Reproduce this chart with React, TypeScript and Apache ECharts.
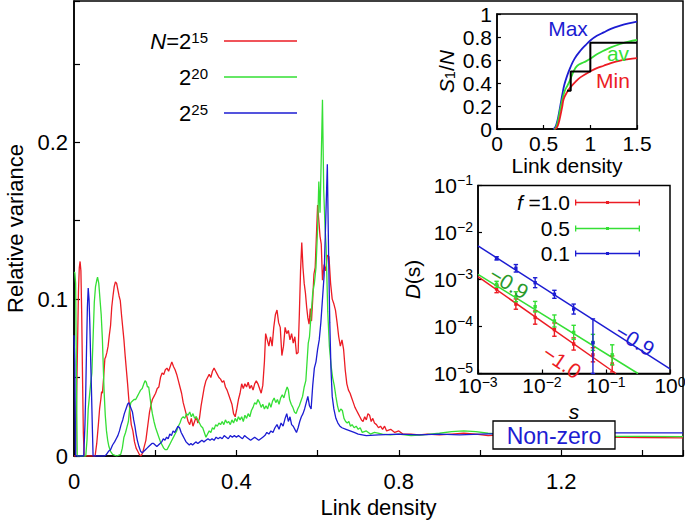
import React, { useEffect, useRef } from 'react';
import * as echarts from 'echarts';

const RED = '#ec1c24';
const GREEN = '#35df35';
const BLUE = '#1c1cd2';
const FONT = 'Liberation Sans';

// ---------- main panel: relative variance vs link density ----------
const mainRed: number[][] = [
  [0, 0], [0.004, 0], [0.008, 0.06], [0.011, 0.105], [0.013, 0.12], [0.015, 0.124], [0.017, 0.118], [0.019, 0.09], [0.021, 0.05], [0.023, 0.015], [0.025, 0],
  [0.052, 0], [0.056, 0.008], [0.06, 0.02], [0.063, 0.03], [0.066, 0.036], [0.068, 0.041], [0.07, 0.04], [0.073, 0.05], [0.076, 0.062], [0.078, 0.063], [0.081, 0.066],
  [0.084, 0.07], [0.087, 0.077], [0.09, 0.083], [0.093, 0.095], [0.096, 0.102], [0.099, 0.108], [0.102, 0.111], [0.105, 0.11], [0.108, 0.106], [0.111, 0.102],
  [0.114, 0.099], [0.117, 0.09], [0.12, 0.082], [0.123, 0.074], [0.126, 0.064], [0.129, 0.055], [0.132, 0.046], [0.135, 0.036], [0.138, 0.028], [0.141, 0.02],
  [0.145, 0.016], [0.149, 0.009], [0.153, 0.005], [0.157, 0.003], [0.161, 0.001], [0.165, 0.0], [0.169, 0.002], [0.173, 0.006], [0.177, 0.01], [0.18, 0.016],
  [0.183, 0.022], [0.186, 0.028], [0.19, 0.033], [0.193, 0.036], [0.197, 0.038], [0.201, 0.04], [0.205, 0.043], [0.209, 0.044], [0.213, 0.05], [0.217, 0.053],
  [0.221, 0.052], [0.225, 0.055], [0.229, 0.056], [0.233, 0.054], [0.237, 0.057], [0.241, 0.06], [0.245, 0.057], [0.249, 0.055], [0.253, 0.052], [0.257, 0.048],
  [0.261, 0.044], [0.265, 0.04], [0.269, 0.034], [0.273, 0.03], [0.277, 0.026], [0.281, 0.022], [0.285, 0.02], [0.289, 0.024], [0.293, 0.019], [0.297, 0.022],
  [0.301, 0.025], [0.305, 0.021], [0.309, 0.024], [0.313, 0.032], [0.317, 0.038], [0.321, 0.044], [0.325, 0.048], [0.329, 0.05], [0.333, 0.052], [0.337, 0.05],
  [0.341, 0.054], [0.345, 0.056], [0.349, 0.054], [0.353, 0.052], [0.357, 0.05], [0.361, 0.049], [0.365, 0.047], [0.369, 0.048], [0.373, 0.044], [0.377, 0.042],
  [0.381, 0.039], [0.385, 0.036], [0.389, 0.033], [0.393, 0.027], [0.397, 0.025], [0.401, 0.03], [0.405, 0.036], [0.409, 0.04], [0.413, 0.046], [0.417, 0.043],
  [0.421, 0.046], [0.425, 0.044], [0.429, 0.047], [0.433, 0.043], [0.437, 0.045], [0.441, 0.042], [0.445, 0.046], [0.449, 0.048], [0.453, 0.046], [0.457, 0.043],
  [0.461, 0.04], [0.465, 0.045], [0.469, 0.06], [0.472, 0.078], [0.476, 0.074], [0.48, 0.07], [0.484, 0.076], [0.488, 0.07], [0.492, 0.082], [0.496, 0.09],
  [0.5, 0.093], [0.504, 0.085], [0.508, 0.082], [0.512, 0.064], [0.516, 0.07], [0.52, 0.082], [0.524, 0.078], [0.528, 0.08], [0.532, 0.074], [0.536, 0.078],
  [0.54, 0.072], [0.544, 0.076], [0.548, 0.065], [0.552, 0.066], [0.555, 0.09], [0.558, 0.118], [0.561, 0.136], [0.564, 0.12], [0.567, 0.11], [0.57, 0.104],
  [0.573, 0.095], [0.576, 0.088], [0.579, 0.084], [0.582, 0.094], [0.585, 0.086], [0.588, 0.1], [0.591, 0.116], [0.594, 0.12], [0.597, 0.14], [0.6, 0.16],
  [0.603, 0.15], [0.606, 0.14], [0.609, 0.135], [0.612, 0.112], [0.616, 0.122], [0.62, 0.118], [0.624, 0.128], [0.628, 0.127], [0.632, 0.11], [0.636, 0.1],
  [0.64, 0.097], [0.644, 0.093], [0.648, 0.085], [0.652, 0.076], [0.656, 0.07], [0.66, 0.074], [0.664, 0.068], [0.668, 0.055], [0.672, 0.046], [0.676, 0.042],
  [0.68, 0.04], [0.684, 0.037], [0.688, 0.034], [0.692, 0.031], [0.696, 0.029], [0.7, 0.027], [0.704, 0.025], [0.708, 0.023], [0.712, 0.022], [0.716, 0.025],
  [0.72, 0.023], [0.724, 0.027], [0.728, 0.026], [0.732, 0.022], [0.736, 0.024], [0.74, 0.021], [0.745, 0.02], [0.75, 0.018], [0.755, 0.019], [0.76, 0.017],
  [0.765, 0.019], [0.77, 0.016], [0.78, 0.017], [0.79, 0.015], [0.8, 0.016], [0.81, 0.014], [0.83, 0.014], [0.85, 0.0135], [0.87, 0.014], [0.9, 0.0135],
  [0.93, 0.014], [0.96, 0.0145], [0.99, 0.014], [1.02, 0.013], [1.05, 0.0135], [1.1, 0.013], [1.2, 0.0125], [1.3, 0.012], [1.4, 0.0118], [1.5, 0.0116],
];

const mainGreen: number[][] = [
  [0, 0.117], [0.002, 0.117], [0.004, 0.11], [0.006, 0.05], [0.008, 0], [0.029, 0], [0.032, 0.01], [0.035, 0.03], [0.038, 0.038], [0.041, 0.046], [0.044, 0.053],
  [0.047, 0.075], [0.05, 0.098], [0.053, 0.108], [0.056, 0.112], [0.058, 0.114], [0.061, 0.11], [0.064, 0.1], [0.067, 0.09], [0.07, 0.074], [0.072, 0.058],
  [0.074, 0.042], [0.077, 0.026], [0.08, 0.016], [0.083, 0.01], [0.086, 0.006], [0.09, 0.003], [0.095, 0.001], [0.105, 0.0], [0.115, 0.001], [0.119, 0.005],
  [0.123, 0.012], [0.127, 0.015], [0.131, 0.019], [0.134, 0.022], [0.137, 0.03], [0.14, 0.034], [0.144, 0.035], [0.148, 0.036], [0.152, 0.036], [0.156, 0.038],
  [0.16, 0.04], [0.164, 0.042], [0.168, 0.043], [0.172, 0.046], [0.175, 0.048], [0.178, 0.047], [0.181, 0.044], [0.184, 0.044], [0.187, 0.038], [0.19, 0.032],
  [0.193, 0.027], [0.197, 0.022], [0.201, 0.018], [0.205, 0.015], [0.209, 0.012], [0.213, 0.009], [0.217, 0.007], [0.221, 0.005], [0.225, 0.004], [0.229, 0.004],
  [0.233, 0.006], [0.237, 0.008], [0.241, 0.01], [0.245, 0.012], [0.249, 0.014], [0.253, 0.016], [0.257, 0.019], [0.261, 0.021], [0.265, 0.024], [0.269, 0.025],
  [0.273, 0.024], [0.277, 0.027], [0.281, 0.026], [0.285, 0.028], [0.289, 0.025], [0.293, 0.027], [0.297, 0.024], [0.301, 0.025], [0.305, 0.023], [0.309, 0.021],
  [0.313, 0.019], [0.317, 0.018], [0.321, 0.015], [0.325, 0.012], [0.329, 0.014], [0.333, 0.016], [0.337, 0.015], [0.341, 0.018], [0.345, 0.017], [0.349, 0.02],
  [0.353, 0.019], [0.357, 0.021], [0.361, 0.02], [0.365, 0.022], [0.369, 0.02], [0.373, 0.023], [0.377, 0.021], [0.381, 0.022], [0.385, 0.02], [0.389, 0.023],
  [0.393, 0.021], [0.397, 0.024], [0.401, 0.022], [0.405, 0.025], [0.409, 0.023], [0.413, 0.025], [0.417, 0.022], [0.421, 0.026], [0.425, 0.024], [0.429, 0.027],
  [0.433, 0.025], [0.437, 0.029], [0.441, 0.031], [0.445, 0.034], [0.449, 0.033], [0.453, 0.036], [0.457, 0.034], [0.461, 0.031], [0.465, 0.033], [0.469, 0.03],
  [0.473, 0.032], [0.477, 0.03], [0.481, 0.034], [0.485, 0.031], [0.489, 0.035], [0.493, 0.037], [0.497, 0.034], [0.501, 0.036], [0.505, 0.033], [0.509, 0.037],
  [0.513, 0.039], [0.517, 0.037], [0.521, 0.041], [0.525, 0.044], [0.528, 0.042], [0.531, 0.036], [0.535, 0.033], [0.539, 0.031], [0.543, 0.028], [0.547, 0.027],
  [0.551, 0.03], [0.555, 0.032], [0.559, 0.035], [0.563, 0.038], [0.567, 0.044], [0.571, 0.048], [0.574, 0.06], [0.577, 0.072], [0.58, 0.076], [0.584, 0.09],
  [0.588, 0.104], [0.592, 0.11], [0.596, 0.12], [0.6, 0.145], [0.603, 0.175], [0.606, 0.155], [0.609, 0.19], [0.612, 0.227], [0.615, 0.17], [0.618, 0.148],
  [0.621, 0.133], [0.625, 0.092], [0.629, 0.07], [0.633, 0.058], [0.637, 0.05], [0.641, 0.045], [0.645, 0.038], [0.649, 0.032], [0.653, 0.028], [0.657, 0.03],
  [0.661, 0.029], [0.665, 0.024], [0.669, 0.022], [0.673, 0.021], [0.677, 0.022], [0.681, 0.019], [0.685, 0.02], [0.69, 0.018], [0.695, 0.019], [0.7, 0.017],
  [0.705, 0.018], [0.71, 0.015], [0.72, 0.016], [0.73, 0.014], [0.74, 0.015], [0.76, 0.014], [0.78, 0.0135], [0.8, 0.014], [0.83, 0.013], [0.86, 0.0135],
  [0.9, 0.0145], [0.93, 0.0155], [0.96, 0.016], [0.99, 0.0155], [1.02, 0.0145], [1.05, 0.014], [1.1, 0.0135], [1.2, 0.013], [1.3, 0.0125], [1.4, 0.0125], [1.5, 0.0123],
];

const mainBlue: number[][] = [
  [0, 0.077], [0.002, 0.06], [0.004, 0], [0.024, 0], [0.027, 0.02], [0.029, 0.042], [0.031, 0.07], [0.033, 0.095], [0.035, 0.107], [0.037, 0.1], [0.039, 0.084],
  [0.041, 0.062], [0.043, 0.042], [0.045, 0.02], [0.047, 0.0], [0.075, 0.0], [0.08, 0.001], [0.085, 0.003], [0.09, 0.004], [0.095, 0.007], [0.1, 0.009],
  [0.104, 0.011], [0.108, 0.013], [0.112, 0.016], [0.116, 0.02], [0.12, 0.023], [0.124, 0.027], [0.128, 0.03], [0.132, 0.033], [0.135, 0.034], [0.138, 0.032],
  [0.141, 0.03], [0.144, 0.028], [0.147, 0.023], [0.15, 0.019], [0.153, 0.014], [0.156, 0.01], [0.16, 0.006], [0.164, 0.003], [0.168, 0.002], [0.172, 0.003],
  [0.176, 0.004], [0.18, 0.005], [0.184, 0.006], [0.188, 0.007], [0.192, 0.008], [0.196, 0.008], [0.2, 0.007], [0.204, 0.006], [0.208, 0.007], [0.212, 0.008],
  [0.216, 0.009], [0.22, 0.011], [0.224, 0.01], [0.228, 0.012], [0.232, 0.011], [0.236, 0.014], [0.24, 0.013], [0.244, 0.016], [0.248, 0.015], [0.252, 0.017],
  [0.256, 0.019], [0.26, 0.018], [0.264, 0.015], [0.268, 0.013], [0.272, 0.011], [0.276, 0.009], [0.28, 0.008], [0.284, 0.007], [0.288, 0.008], [0.292, 0.007],
  [0.296, 0.008], [0.3, 0.009], [0.305, 0.008], [0.31, 0.009], [0.315, 0.01], [0.32, 0.009], [0.325, 0.01], [0.33, 0.011], [0.335, 0.01], [0.34, 0.011],
  [0.345, 0.01], [0.35, 0.012], [0.355, 0.011], [0.36, 0.012], [0.365, 0.011], [0.37, 0.013], [0.375, 0.012], [0.38, 0.011], [0.385, 0.013], [0.39, 0.012],
  [0.395, 0.013], [0.4, 0.012], [0.405, 0.013], [0.41, 0.012], [0.415, 0.011], [0.42, 0.013], [0.425, 0.012], [0.43, 0.011], [0.435, 0.01], [0.44, 0.011],
  [0.445, 0.012], [0.45, 0.011], [0.455, 0.01], [0.46, 0.011], [0.465, 0.012], [0.47, 0.013], [0.475, 0.015], [0.48, 0.014], [0.485, 0.016], [0.49, 0.015],
  [0.495, 0.018], [0.5, 0.02], [0.505, 0.017], [0.51, 0.021], [0.515, 0.019], [0.52, 0.024], [0.524, 0.027], [0.528, 0.022], [0.532, 0.025], [0.536, 0.02],
  [0.54, 0.019], [0.544, 0.017], [0.548, 0.015], [0.552, 0.018], [0.556, 0.022], [0.56, 0.025], [0.564, 0.027], [0.568, 0.03], [0.572, 0.034], [0.576, 0.038],
  [0.58, 0.032], [0.584, 0.03], [0.588, 0.045], [0.592, 0.056], [0.596, 0.06], [0.6, 0.068], [0.604, 0.074], [0.608, 0.085], [0.612, 0.1], [0.616, 0.115],
  [0.62, 0.15], [0.624, 0.186], [0.627, 0.13], [0.63, 0.085], [0.633, 0.055], [0.636, 0.038], [0.64, 0.03], [0.645, 0.024], [0.65, 0.021], [0.655, 0.019],
  [0.66, 0.018], [0.67, 0.017], [0.68, 0.016], [0.69, 0.015], [0.7, 0.014], [0.72, 0.013], [0.75, 0.0135], [0.8, 0.014], [0.85, 0.0135], [0.9, 0.014],
  [0.95, 0.0135], [1.0, 0.014], [1.1, 0.0145], [1.2, 0.0145], [1.3, 0.0148], [1.4, 0.0148], [1.5, 0.0148],
];

const mainXTickLabels = [0, 0.4, 0.8, 1.2];
const mainYTickLabels = [0, 0.1, 0.2];

// ---------- top inset: S1/N vs link density ----------
const insetMax: number[][] = [
  [0.6, 0], [0.62, 0.01], [0.64, 0.05], [0.66, 0.12], [0.68, 0.21], [0.7, 0.3], [0.72, 0.38], [0.75, 0.46], [0.786, 0.536], [0.83, 0.61],
  [0.893, 0.68], [0.95, 0.73], [1.0, 0.77], [1.07, 0.81], [1.143, 0.84], [1.22, 0.87], [1.32, 0.898], [1.41, 0.918], [1.5, 0.933],
];
const insetAv: number[][] = [
  [0.61, 0], [0.63, 0.01], [0.65, 0.06], [0.67, 0.14], [0.69, 0.22], [0.71, 0.29], [0.73, 0.34], [0.75, 0.37], [0.78, 0.42], [0.82, 0.5],
  [0.86, 0.55], [0.93, 0.58], [1.0, 0.61], [1.07, 0.65], [1.143, 0.681], [1.22, 0.71], [1.32, 0.739], [1.41, 0.76], [1.5, 0.774],
];
const insetMin: number[][] = [
  [0.62, 0], [0.64, 0.01], [0.66, 0.05], [0.68, 0.12], [0.7, 0.2], [0.714, 0.26], [0.75, 0.32], [0.786, 0.362], [0.84, 0.41], [0.893, 0.449],
  [1.0, 0.501], [1.07, 0.53], [1.143, 0.55], [1.22, 0.572], [1.32, 0.594], [1.41, 0.607], [1.5, 0.617],
];
const insetSteps: number[][] = [
  [0.75, 0.333], [0.79, 0.333], [0.79, 0.5], [1.0, 0.5], [1.0, 0.75], [1.5, 0.75],
];

// ---------- bottom inset: D(s) vs s ----------
const sizeS = [0.001953125, 0.00390625, 0.0078125, 0.015625, 0.03125, 0.0625, 0.125];
const dF10 = [6.3e-4, 3.0e-4, 1.55e-4, 8.6e-5, 4.25e-5, 2.5e-5, 1.6e-5];
const dF10Lo = [5.24e-4, 2.33e-4, 1.12e-4, 6.2e-5, 3.15e-5, 1.77e-5, 1.08e-5];
const dF10Hi = [7.57e-4, 3.86e-4, 2.14e-4, 1.19e-4, 5.73e-5, 3.53e-5, 2.37e-5];
const dF05 = [7.9e-4, 4.3e-4, 2.64e-4, 1.31e-4, 7.5e-5, 4.6e-5, 2.5e-5];
const dF05Lo = [6.82e-4, 3.37e-4, 2.04e-4, 9.75e-5, 5.32e-5, 3.11e-5, 1.53e-5];
const dF05Hi = [9.16e-4, 5.49e-4, 3.42e-4, 1.76e-4, 1.06e-4, 6.8e-5, 4.08e-5];
const dF01 = [2.82e-3, 1.73e-3, 8.55e-4, 4.84e-4, 2.35e-4, 4.5e-5];
const dF01Lo = [2.6e-3, 1.44e-3, 6.7e-4, 3.98e-4, 1.84e-4, 1e-5];
const dF01Hi = [3.06e-3, 2.08e-3, 1.09e-3, 5.89e-4, 3.0e-4, 1.45e-4];
const fitF10: number[][] = [[0.001, 1.15e-3], [0.143, 1e-5]];
const fitF05: number[][] = [[0.001, 1.29e-3], [0.316, 1e-5]];
const fitF01: number[][] = [[0.001, 5.2e-3], [1, 1.25e-5]];

const pack = (d: number[], lo: number[], hi: number[]) => d.map((v, i) => [sizeS[i], v, lo[i], hi[i]]);

const errorBars = (color: string) => (params: any, api: any) => {
  const s = api.value(0);
  const p = api.coord([s, api.value(1)]);
  const pl = api.coord([s, api.value(2)]);
  const ph = api.coord([s, api.value(3)]);
  const cw = 2.2;
  const m = 1.7;
  const st = { stroke: color, lineWidth: 1.4 };
  return {
    type: 'group',
    children: [
      { type: 'line', shape: { x1: p[0], y1: pl[1], x2: p[0], y2: ph[1] }, style: st },
      { type: 'line', shape: { x1: p[0] - cw, y1: pl[1], x2: p[0] + cw, y2: pl[1] }, style: st },
      { type: 'line', shape: { x1: p[0] - cw, y1: ph[1], x2: p[0] + cw, y2: ph[1] }, style: st },
      { type: 'rect', shape: { x: p[0] - m, y: p[1] - m, width: 2 * m, height: 2 * m }, style: { fill: color } },
    ],
  };
};

const axisLine = { show: true, lineStyle: { color: '#000', width: 1.5 } };
const tickIn = (len: number) => ({ show: true, inside: true, length: len, lineStyle: { color: '#000', width: 1.2 } });

const supRichX = {
  b: { fontSize: 21, lineHeight: 21, verticalAlign: 'bottom', fontFamily: FONT, color: '#000' },
  s: { fontSize: 14, lineHeight: 14, padding: [0, 0, 12, 0], verticalAlign: 'top', fontFamily: FONT, color: '#000' },
};
const supRichY = {
  b: { fontSize: 21, lineHeight: 26, verticalAlign: 'middle', fontFamily: FONT, color: '#000' },
  s: { fontSize: 14, lineHeight: 14, padding: [0, 0, 12, 0], verticalAlign: 'top', fontFamily: FONT, color: '#000' },
};
const logLabel = (v: number) => {
  const e = Math.round(Math.log10(v));
  return e === 0 ? '{b|10}{s|0}' : `{b|10}{s|−${Math.abs(e)}}`;
};

const mainLegendRich = {
  i: { fontSize: 22, lineHeight: 22, fontStyle: 'italic', verticalAlign: 'bottom', fontFamily: FONT, color: '#000' },
  b: { fontSize: 22, lineHeight: 22, verticalAlign: 'bottom', fontFamily: FONT, color: '#000' },
  s: { fontSize: 15, lineHeight: 15, padding: [0, 11, 9, 0], verticalAlign: 'top', fontFamily: FONT, color: '#000' },
};
const fLegendRich = {
  i: { fontSize: 21, lineHeight: 22, fontStyle: 'italic', fontFamily: FONT, color: '#000' },
  b: { fontSize: 21, lineHeight: 22, fontFamily: FONT, color: '#000' },
};
// plain line icon (corner specks keep the bounding box at 73 x 14)
const lineIcon = 'path://M0,6.3H73V7.7H0Z M0,0H0.01V0.01H0Z M72.99,13.99H73V14H72.99Z';
const fIcon = 'path://M0,2.25H65V3.75H0Z M0,0H1.3V6H0Z M63.7,0H65V6H63.7Z M31,1.5H34V4.5H31Z';

const mainLegend = (name: string, top: number, fmt: string) => ({
  data: [{ name, icon: lineIcon }], orient: 'vertical', align: 'right', right: 388, top, padding: 0,
  itemWidth: 73, itemHeight: 14, selectedMode: false, formatter: () => fmt,
  textStyle: { rich: mainLegendRich },
});
const fLegend = (name: string, top: number, fmt: string) => ({
  data: [{ name, icon: fIcon }], orient: 'vertical', align: 'right', right: 45, top, padding: 0,
  itemWidth: 65, itemHeight: 6, selectedMode: false, formatter: () => fmt,
  textStyle: { rich: fLegendRich },
});

const option: any = {
  animation: false,
  backgroundColor: '#fff',
  textStyle: { fontFamily: FONT, color: '#000' },
  grid: [
    { left: 74, right: 2, top: 1, bottom: 68, show: true, borderColor: '#000', borderWidth: 1.5, containLabel: false, outerBoundsMode: 'none' },
    { left: 497, right: 48, top: 14, bottom: 395, show: true, borderColor: '#000', borderWidth: 1.5, backgroundColor: '#fff', containLabel: false, outerBoundsMode: 'none' },
    { left: 478, right: 15, top: 185.5, bottom: 150.5, show: true, borderColor: '#000', borderWidth: 1.5, backgroundColor: '#fff', containLabel: false, outerBoundsMode: 'none' },
  ],
  xAxis: [
    {
      gridIndex: 0, type: 'value', min: 0, max: 1.5, interval: 0.2,
      axisLine, axisTick: tickIn(6), splitLine: { show: false },
      axisLabel: {
        fontSize: 22, color: '#000', margin: 14, fontFamily: FONT,
        formatter: (v: number) => {
          const t = mainXTickLabels.find((x) => Math.abs(x - v) < 1e-6);
          return t === undefined ? '' : String(t);
        },
      },
      name: 'Link density', nameLocation: 'middle', nameGap: 37,
      nameTextStyle: { fontSize: 22, color: '#000', fontFamily: FONT },
    },
    {
      gridIndex: 1, type: 'value', min: 0, max: 1.5, interval: 0.5,
      axisLine, axisTick: tickIn(4), splitLine: { show: false },
      axisLabel: { fontSize: 21, color: '#000', margin: 4, fontFamily: FONT },
      name: 'Link density', nameLocation: 'middle', nameGap: 23,
      nameTextStyle: { fontSize: 21, color: '#000', fontFamily: FONT },
    },
    {
      gridIndex: 2, type: 'log', logBase: 10, min: 0.001, max: 1,
      axisLine, axisTick: tickIn(4), splitLine: { show: false }, minorTick: { show: false },
      axisLabel: { formatter: logLabel, rich: supRichX, margin: 1 },
      name: 's', nameLocation: 'middle', nameGap: 22,
      nameTextStyle: { fontSize: 21, lineHeight: 20, fontStyle: 'italic', color: '#000', fontFamily: FONT },
    },
  ],
  yAxis: [
    {
      gridIndex: 0, type: 'value', min: 0, max: 0.29, interval: 0.05,
      axisLine, axisTick: tickIn(6), splitLine: { show: false },
      axisLabel: {
        fontSize: 22, color: '#000', margin: 6, fontFamily: FONT,
        formatter: (v: number) => {
          const t = mainYTickLabels.find((x) => Math.abs(x - v) < 1e-6);
          return t === undefined ? '' : String(t);
        },
      },
      name: 'Relative variance', nameLocation: 'middle', nameGap: 46,
      nameTextStyle: { fontSize: 22, color: '#000', fontFamily: FONT },
    },
    {
      gridIndex: 1, type: 'value', min: 0, max: 1, interval: 0.2,
      axisLine, axisTick: tickIn(4), splitLine: { show: false },
      axisLabel: { fontSize: 21, color: '#000', margin: 5, fontFamily: FONT },
      name: '{i|S}{u|1}{n|/}{i|N}', nameLocation: 'middle', nameGap: 40,
      nameTextStyle: {
        rich: {
          i: { fontSize: 21, lineHeight: 21, fontStyle: 'italic', verticalAlign: 'bottom', fontFamily: FONT, color: '#000' },
          n: { fontSize: 21, lineHeight: 21, verticalAlign: 'bottom', fontFamily: FONT, color: '#000' },
          u: { fontSize: 14, lineHeight: 14, padding: [12, 0, 0, 0], verticalAlign: 'bottom', fontFamily: FONT, color: '#000' },
        },
      },
    },
    {
      gridIndex: 2, type: 'log', logBase: 10, min: 1e-5, max: 0.1,
      axisLine, axisTick: tickIn(4), splitLine: { show: false }, minorTick: { show: false },
      axisLabel: { formatter: logLabel, rich: supRichY, margin: 5 },
      name: '{i|D}{n|(s)}', nameLocation: 'middle', nameGap: 55,
      nameTextStyle: {
        rich: {
          i: { fontSize: 21, fontStyle: 'italic', fontFamily: FONT, color: '#000' },
          n: { fontSize: 21, fontFamily: FONT, color: '#000' },
        },
      },
    },
  ],
  legend: [
    mainLegend('N=2^15', 30, '{i|N}{b|=2}{s|15}'),
    mainLegend('2^20', 66, '{b|2}{s|20}'),
    mainLegend('2^25', 102, '{b|2}{s|25}'),
    fLegend('f =1.0', 192, '{i|f}{b| =1.0}'),
    fLegend('0.5', 218, '{b|0.5}'),
    fLegend('0.1', 243, '{b|0.1}'),
  ],
  series: [
    { name: 'N=2^15', type: 'line', xAxisIndex: 0, yAxisIndex: 0, data: mainRed, symbol: 'none', color: RED, lineStyle: { color: RED, width: 1.3 }, z: 3 },
    { name: '2^20', type: 'line', xAxisIndex: 0, yAxisIndex: 0, data: mainGreen, symbol: 'none', color: GREEN, lineStyle: { color: GREEN, width: 1.3 }, z: 4 },
    { name: '2^25', type: 'line', xAxisIndex: 0, yAxisIndex: 0, data: mainBlue, symbol: 'none', color: BLUE, lineStyle: { color: BLUE, width: 1.3 }, z: 5 },

    { name: 'Max', type: 'line', xAxisIndex: 1, yAxisIndex: 1, data: insetMax, symbol: 'none', smooth: 0.4, lineStyle: { color: BLUE, width: 1.8 }, z: 6 },
    { name: 'av', type: 'line', xAxisIndex: 1, yAxisIndex: 1, data: insetAv, symbol: 'none', smooth: 0.4, lineStyle: { color: GREEN, width: 1.8 }, z: 6 },
    { name: 'Min', type: 'line', xAxisIndex: 1, yAxisIndex: 1, data: insetMin, symbol: 'none', smooth: 0.4, lineStyle: { color: RED, width: 1.8 }, z: 6 },
    { name: 'steps', type: 'line', xAxisIndex: 1, yAxisIndex: 1, data: insetSteps, symbol: 'none', lineStyle: { color: '#000', width: 2 }, z: 7 },

    { name: 'f =1.0', type: 'line', xAxisIndex: 2, yAxisIndex: 2, data: fitF10, symbol: 'none', color: RED, lineStyle: { color: RED, width: 1.5 }, z: 6 },
    { name: '0.5', type: 'line', xAxisIndex: 2, yAxisIndex: 2, data: fitF05, symbol: 'none', color: GREEN, lineStyle: { color: GREEN, width: 1.5 }, z: 6 },
    { name: '0.1', type: 'line', xAxisIndex: 2, yAxisIndex: 2, data: fitF01, symbol: 'none', color: BLUE, lineStyle: { color: BLUE, width: 1.5 }, z: 6 },
    { name: 'err10', type: 'custom', xAxisIndex: 2, yAxisIndex: 2, data: pack(dF10, dF10Lo, dF10Hi), renderItem: errorBars(RED), encode: { x: 0, y: 1 }, z: 7 },
    { name: 'err05', type: 'custom', xAxisIndex: 2, yAxisIndex: 2, data: pack(dF05, dF05Lo, dF05Hi), renderItem: errorBars(GREEN), encode: { x: 0, y: 1 }, z: 7 },
    { name: 'err01', type: 'custom', xAxisIndex: 2, yAxisIndex: 2, data: pack(dF01, dF01Lo, dF01Hi), renderItem: errorBars(BLUE), encode: { x: 0, y: 1 }, z: 8 },
  ],
  graphic: [
    { type: 'text', x: 568, y: 28, style: { text: 'Max', fill: BLUE, fontSize: 21, fontFamily: FONT, align: 'center', verticalAlign: 'middle' }, z: 20 },
    { type: 'text', x: 618, y: 53, style: { text: 'av', fill: GREEN, fontSize: 21, fontFamily: FONT, align: 'center', verticalAlign: 'middle' }, z: 20 },
    { type: 'text', x: 613, y: 80, style: { text: 'Min', fill: RED, fontSize: 21, fontFamily: FONT, align: 'center', verticalAlign: 'middle' }, z: 20 },
    { type: 'text', x: 509, y: 283, rotation: -0.55, style: { text: '−0.9', fill: '#2a9a2a', fontSize: 21, fontFamily: FONT, align: 'center', verticalAlign: 'middle' }, z: 20 },
    { type: 'text', x: 635, y: 340, rotation: -0.55, style: { text: '−0.9', fill: BLUE, fontSize: 21, fontFamily: FONT, align: 'center', verticalAlign: 'middle' }, z: 20 },
    { type: 'text', x: 562, y: 362, rotation: -0.6, style: { text: '−1.0', fill: RED, fontSize: 21, fontFamily: FONT, align: 'center', verticalAlign: 'middle' }, z: 20 },
    { type: 'rect', shape: { x: 493, y: 421, width: 122, height: 28 }, style: { fill: '#fff', stroke: '#000', lineWidth: 1.3 }, z: 20 },
    { type: 'text', x: 554, y: 435.5, style: { text: 'Non-zero', fill: BLUE, fontSize: 23, fontFamily: FONT, align: 'center', verticalAlign: 'middle' }, z: 21 },
  ],
};

export default function App() {
  const ref = useRef<HTMLDivElement>(null);
  useEffect(() => {
    const chart = echarts.init(ref.current as HTMLDivElement, null, { renderer: 'svg' });
    chart.setOption(option);
    return () => chart.dispose();
  }, []);
  return <div ref={ref} style={{ position: 'fixed', left: 0, top: 0, width: 685, height: 524 }} />;
}
